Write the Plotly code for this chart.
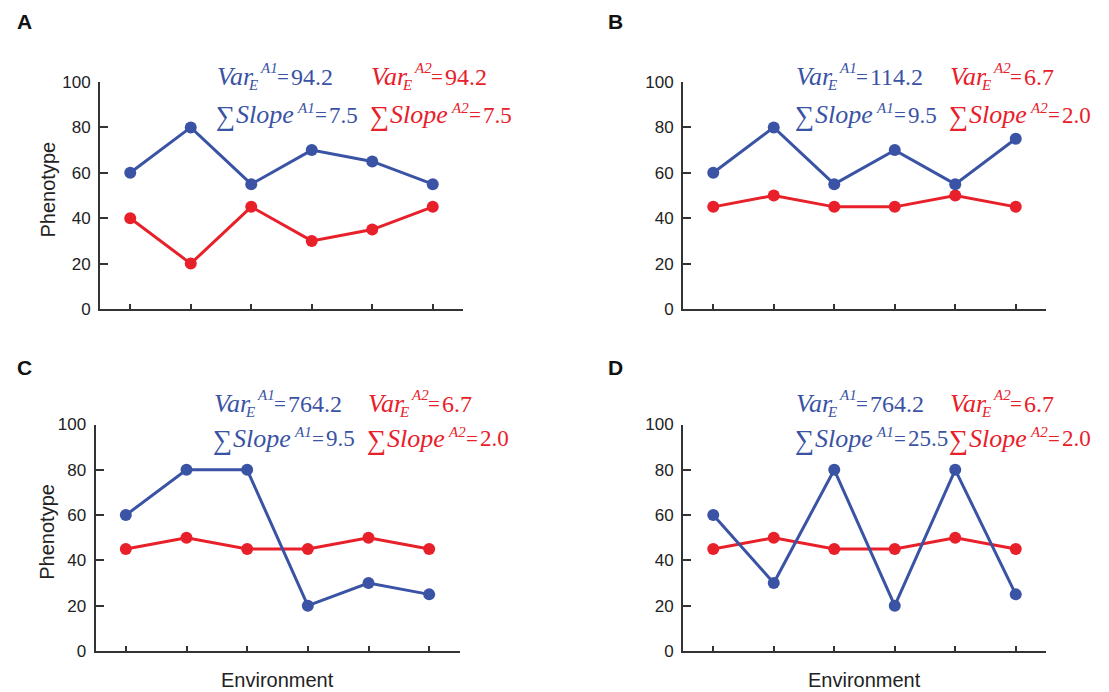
import plotly.graph_objects as go

W, H = 1109, 692
BLUE = "#3a53a4"
RED = "#e8202a"
AX = "#333333"

env = [1, 2, 3, 4, 5, 6]
a_blue = [60, 80, 55, 70, 65, 55]
a_red = [40, 20, 45, 30, 35, 45]
b_blue = [60, 80, 55, 70, 55, 75]
b_red = [45, 50, 45, 45, 50, 45]
c_blue = [60, 80, 80, 20, 30, 25]
c_red = [45, 50, 45, 45, 50, 45]
d_blue = [60, 30, 80, 20, 80, 25]
d_red = [45, 50, 45, 45, 50, 45]
yticks = [0, 20, 40, 60, 80, 100]

var_a1 = ["94.2", "114.2", "764.2", "764.2"]
var_a2 = ["94.2", "6.7", "6.7", "6.7"]
slope_a1 = ["7.5", "9.5", "9.5", "25.5"]
slope_a2 = ["7.5", "2.0", "2.0", "2.0"]
letters = ["A", "B", "C", "D"]


def px(x):
    return x / W


def py(y):
    return 1 - y / H


# panel geometry in pixels: (x_left, x_right, y_top, y_bottom)
panels = [
    (100, 463, 82, 309),
    (683, 1046, 82, 309),
    (95.5, 459.5, 424.5, 651),
    (683, 1046, 424.5, 651),
]
series = [(a_blue, a_red), (b_blue, b_red), (c_blue, c_red), (d_blue, d_red)]
# text block anchors: (blue_x, line1 cap-centre y, line2 cap-centre y)
blocks = [(218, 76, 114), (797, 76, 114), (215, 403, 438), (797, 403, 438)]
letter_pos = [(15, 21), (606, 21), (15, 368), (606, 368)]

fig = go.Figure()
layout = dict(
    width=W, height=H,
    margin=dict(l=0, r=0, t=0, b=0, pad=0, autoexpand=False),
    paper_bgcolor="white", plot_bgcolor="white", showlegend=False,
    font=dict(family="Liberation Sans, Arial, sans-serif", size=17, color="#222222"),
)
annotations = []

for i, ((xl, xr, yt, yb), (sb, sr)) in enumerate(zip(panels, series)):
    n = "" if i == 0 else str(i + 1)
    xa, ya = "x" + n, "y" + n
    for vals, col in ((sr, RED), (sb, BLUE)):
        fig.add_trace(go.Scatter(
            x=env, y=vals, xaxis=xa, yaxis=ya, mode="lines+markers",
            line=dict(color=col, width=3), marker=dict(color=col, size=12),
            cliponaxis=False,
        ))
    layout["xaxis" + n] = dict(
        domain=[px(xl), px(xr)], anchor=ya, range=[0.5, 6.5],
        tickvals=env, showticklabels=False, ticks="inside", ticklen=5,
        tickwidth=2, tickcolor=AX, showline=True, linecolor=AX, linewidth=2,
        showgrid=False, zeroline=False, fixedrange=True, automargin=False,
    )
    layout["yaxis" + n] = dict(
        domain=[py(yb), py(yt)], anchor=xa, range=[0, 100],
        tickvals=yticks, ticks="inside", ticklen=8, tickwidth=2,
        tickcolor=AX, showline=True, linecolor=AX, linewidth=2,
        showgrid=False, zeroline=False, ticklabelstandoff=4,
        tickfont=dict(size=17, color="#222222"), fixedrange=True,
        automargin=False,
    )

    # panel letter
    lx, ly = letter_pos[i]
    annotations.append(dict(
        x=px(lx), y=py(ly), xref="paper", yref="paper", xanchor="left",
        yanchor="middle", showarrow=False, text="<b>%s</b>" % letters[i],
        font=dict(size=21, color="#111111", family="Liberation Sans, Arial"),
    ))

    # statistic text blocks (x offsets relative to block start, y = cap centre)
    bx, y1, y2 = blocks[i]
    for ox, col, gene, vtxt, stxt in ((0, BLUE, "A1", var_a1[i], slope_a1[i]),
                                     (154, RED, "A2", var_a2[i], slope_a2[i])):
        x0 = bx + ox - 3
        serif = "Liberation Serif, Times New Roman, serif"
        items = [
            (x0, y1, "<i>Var</i>", 26),
            (x0 + 31, y1 + 9, "<i>E</i>", 15),
            (x0 + 43, y1 - 8, "<i>%s</i>" % gene, 15),
            (x0 + 60, y1 + 1, "=", 21),
            (x0 + 74, y1 + 1, vtxt, 24),
            (x0 - 1, y2 + 2, "\u2211", 27),
            (x0 + 19, y2, "<i>Slope</i>", 26),
            (x0 + 80, y2 - 6, "<i>%s</i>" % gene, 15),
            (x0 + 98, y2 + 1, "=", 21),
            (x0 + 112, y2 + 1, stxt, 23),
        ]
        for (tx, ty, txt, sz) in items:
            annotations.append(dict(
                x=px(tx), y=py(ty), xref="paper", yref="paper",
                xanchor="left", yanchor="middle", showarrow=False, text=txt,
                font=dict(size=sz, color=col, family=serif),
            ))

# axis titles
for (xl, xr, yt, yb) in (panels[0], panels[2]):
    annotations.append(dict(
        x=px(47), y=py((yt + yb) / 2 - 6), xref="paper", yref="paper",
        xanchor="center", yanchor="middle", showarrow=False, text="Phenotype",
        textangle=-90, font=dict(size=20, color="#222222"),
    ))
for (xl, xr, yt, yb) in (panels[2], panels[3]):
    annotations.append(dict(
        x=px((xl + xr) / 2), y=py(yb + 29), xref="paper", yref="paper",
        xanchor="center", yanchor="middle", showarrow=False, text="Environment",
        font=dict(size=20, color="#222222"),
    ))

layout["annotations"] = annotations
fig.update_layout(**layout)
fig.write_html("out.html")
